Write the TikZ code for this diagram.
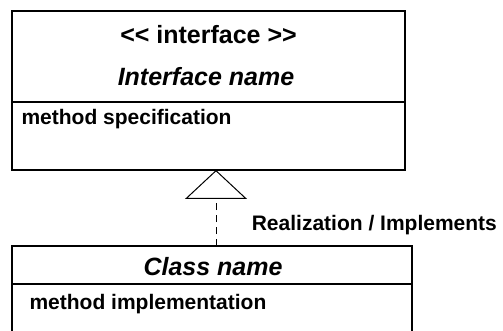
\documentclass[tikz,border=0pt]{standalone}
\usepackage{fontspec}
\setmainfont{Liberation Sans}
\usetikzlibrary{arrows.meta}
\tikzset{
	box/.style={draw,line width=1.2pt},
	title/.style={font=\bfseries\fontsize{25}{30}\selectfont},
	oper/.style={font=\bfseries\fontsize{21}{25}\selectfont,anchor=west},
	realize/.style={line width=1pt,dash pattern=on 7pt off 5pt,-{Triangle[open,width=62pt,length=29pt,line width=1pt]}}
}
\begin{document}
\begin{tikzpicture}[x=1pt,y=-1pt]
	\useasboundingbox (0,0) rectangle (503,331);
	\clip (0,0) rectangle (503,331);
	% interface box
	\draw[box] (12,11) rectangle (405,170);
	\draw[box] (12,102) -- (405,102);
	\node[title] (stereo) at (208.5,35) {{<}{<} interface {>}{>}};
	\node[title,font=\bfseries\itshape\fontsize{25}{30}\selectfont] (iname) at (206,77) {Interface name};
	\node[oper] (spec) at (18,119) {method specification};
	\coordinate (itop) at (216,170);
	% class box
	\draw[box] (12,246) rectangle (412,345);
	\draw[box] (12,284) -- (412,284);
	\node[title,font=\bfseries\itshape\fontsize{25}{30}\selectfont] (cname) at (213,267) {Class name};
	\node[oper] (impl) at (26,304) {method implementation};
	\coordinate (cbot) at (216,246);
	% realization
	\draw[realize] (cbot) -- (itop) node[pos=0.28,font=\bfseries\fontsize{21}{25}\selectfont,anchor=west,xshift=32pt] (rlab) {Realization / Implements};
\end{tikzpicture}
\end{document}
